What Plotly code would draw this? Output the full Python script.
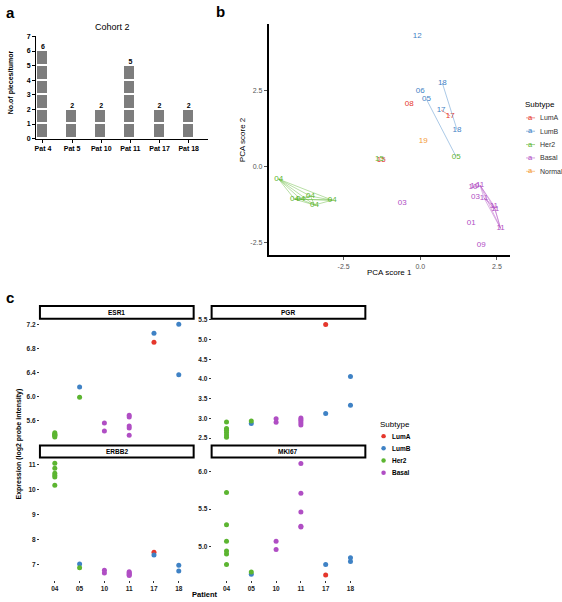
import plotly.graph_objects as go

W, H = 562, 602
FONT = "Liberation Sans"

# ---------------- data ----------------
# panel a
pat_labels = ["Pat 4", "Pat 5", "Pat 10", "Pat 11", "Pat 17", "Pat 18"]
pieces = [6, 2, 2, 5, 2, 2]

# panel b (PCA)
subtypes = ["LumA", "LumB", "Her2", "Basal", "Normal"]
colors = {"LumA": "#E5372C", "LumB": "#3F82C5", "Her2": "#5CB531",
          "Basal": "#B04EC4", "Normal": "#F39A36"}
line_rgba = {"LumA": "rgba(229,55,44,0.55)", "LumB": "rgba(63,130,197,0.55)",
             "Her2": "rgba(92,181,49,0.55)", "Basal": "rgba(176,78,196,0.55)",
             "Normal": "rgba(243,154,54,0.55)"}
pca_label = ["12", "06", "05", "18", "18", "17", "17", "08", "19", "05",
             "15", "15",
             "04", "04", "04", "04", "04", "04",
             "10", "10", "11", "03", "11", "11", "11", "11", "01", "09", "03"]
pca_sub = ["LumB", "LumB", "LumB", "LumB", "LumB", "LumA", "LumB", "LumA", "Normal", "Her2",
           "Her2", "LumA",
           "Her2", "Her2", "Her2", "Her2", "Her2", "Her2",
           "Basal", "Basal", "Basal", "Basal", "Basal", "Basal", "Basal", "Basal", "Basal", "Basal", "Basal"]
pca_x = [-0.10, 0.00, 0.20, 0.72, 1.20, 0.98, 0.68, -0.36, 0.10, 1.17,
         -1.33, -1.27,
         -4.62, -4.10, -3.90, -3.58, -3.45, -2.87,
         1.72, 1.78, 1.95, 1.80, 2.08, 2.40, 2.44, 2.62, 1.66, 1.99, -0.59]
pca_y = [4.29, 2.46, 2.20, 2.73, 1.19, 1.65, 1.84, 2.04, 0.83, 0.31,
         0.24, 0.20,
         -0.43, -1.09, -1.09, -0.99, -1.28, -1.12,
         -0.69, -0.66, -0.63, -1.02, -1.05, -1.30, -1.42, -2.05, -1.87, -2.58, -1.22]
linked_patients = ["04", "05", "10", "11", "17", "18"]

# panel c
patients = ["04", "05", "10", "11", "17", "18"]
c_subtypes = ["LumA", "LumB", "Her2", "Basal"]
genes = ["ESR1", "PGR", "ERBB2", "MKI67"]
expr_patient = ["04"] * 6 + ["05", "05", "10", "10"] + ["11"] * 5 + ["17", "17", "18", "18"]
expr_sub = ["Her2"] * 6 + ["LumB", "Her2", "Basal", "Basal"] + ["Basal"] * 5 + ["LumB", "LumA", "LumB", "LumB"]
expr_ESR1 = [5.40, 5.38, 5.37, 5.36, 5.35, 5.33, 6.16, 5.99, 5.56, 5.43,
             5.69, 5.66, 5.51, 5.48, 5.36, 7.05, 6.90, 7.20, 6.36]
expr_PGR = [2.91, 2.74, 2.70, 2.64, 2.58, 2.52, 2.87, 2.93, 2.99, 2.90,
            3.01, 2.97, 2.93, 2.88, 2.83, 3.12, 5.38, 4.06, 3.33]
expr_ERBB2 = [11.05, 10.85, 10.65, 10.57, 10.50, 10.17, 7.03, 6.88, 6.78, 6.67,
              6.72, 6.68, 6.64, 6.60, 6.57, 7.39, 7.50, 6.98, 6.75]
expr_MKI67 = [5.72, 5.29, 5.07, 4.94, 4.90, 4.76, 4.63, 4.66, 5.07, 4.96,
              6.11, 5.71, 5.46, 5.27, 5.26, 4.76, 4.62, 4.85, 4.80]
expr = {"ESR1": expr_ESR1, "PGR": expr_PGR, "ERBB2": expr_ERBB2, "MKI67": expr_MKI67}
y_ranges = {"ESR1": [5.22, 7.29], "PGR": [2.36, 5.525], "ERBB2": [6.38, 11.28], "MKI67": [4.55, 6.19]}
y_ticks = {"ESR1": [5.6, 6.0, 6.4, 6.8, 7.2], "PGR": [2.5, 3.0, 3.5, 4.0, 4.5, 5.0, 5.5],
           "ERBB2": [7, 8, 9, 10, 11], "MKI67": [5.0, 5.5, 6.0]}
y_ticktext = {"ESR1": ["5.6", "6.0", "6.4", "6.8", "7.2"],
              "PGR": ["2.5", "3.0", "3.5", "4.0", "4.5", "5.0", "5.5"],
              "ERBB2": ["7", "8", "9", "10", "11"], "MKI67": ["5.0", "5.5", "6.0"]}


def xd(a, b):
    return [a / W, b / W]


def yd(top, bottom):
    return [1 - bottom / H, 1 - top / H]


fig = go.Figure()

# ---------------- panel a ----------------
for k in range(1, max(pieces) + 1):
    xs = [i for i, c in enumerate(pieces) if c >= k]
    fig.add_trace(go.Bar(x=xs, y=[1] * len(xs), width=0.41, marker=dict(color="#7d7d7d", line=dict(color="white", width=1.6)),
                         xaxis="x", yaxis="y", showlegend=False, hoverinfo="skip"))
fig.add_trace(go.Scatter(x=list(range(len(pieces))), y=pieces, mode="text", text=[str(p) for p in pieces],
                         textposition="top center", textfont=dict(size=7, color="black", family=FONT, weight="bold"),
                         xaxis="x", yaxis="y", showlegend=False))

# ---------------- panel b ----------------
for st in subtypes:
    idx = [i for i, s in enumerate(pca_sub) if s == st]
    if not idx:
        continue
    fig.add_trace(go.Scatter(x=[pca_x[i] for i in idx], y=[pca_y[i] for i in idx], mode="text",
                             text=[pca_label[i] for i in idx], textposition="middle center",
                             textfont=dict(size=8, color=colors[st], family=FONT),
                             xaxis="x2", yaxis="y2", showlegend=False))
# segments between pieces of same patient, colored by first piece
seg = {st: ([], []) for st in subtypes}
for i in range(len(pca_label)):
    if pca_label[i] not in linked_patients:
        continue
    for j in range(i + 1, len(pca_label)):
        if pca_label[j] == pca_label[i]:
            sx, sy = seg[pca_sub[i]]
            sx += [pca_x[i], pca_x[j], None]
            sy += [pca_y[i], pca_y[j], None]
for st in subtypes:
    sx, sy = seg[st]
    if sx:
        fig.add_trace(go.Scatter(x=sx, y=sy, mode="lines", line=dict(color=line_rgba[st], width=0.8),
                                 xaxis="x2", yaxis="y2", showlegend=False, hoverinfo="skip"))

# ---------------- panel c ----------------
pos = {"ESR1": (3, (39, 193), (319, 445)), "PGR": (4, (211, 365), (319, 445)),
       "ERBB2": (5, (39, 193), (459, 583)), "MKI67": (6, (211, 365), (459, 583))}
for g in genes:
    n = pos[g][0]
    for st in c_subtypes:
        idx = [i for i, s in enumerate(expr_sub) if s == st]
        fig.add_trace(go.Scatter(x=[patients.index(expr_patient[i]) for i in idx], y=[expr[g][i] for i in idx],
                                 mode="markers", marker=dict(size=5, color=colors[st]),
                                 xaxis=f"x{n}", yaxis=f"y{n}", showlegend=False))

layout = dict(width=W, height=H, margin=dict(l=0, r=0, t=0, b=0), paper_bgcolor="white", plot_bgcolor="white",
              barmode="stack", bargap=0, font=dict(family=FONT, color="black"), showlegend=False)

tickf = dict(size=7, color="black", family=FONT, weight="bold")
layout["xaxis"] = dict(domain=xd(35, 207), range=[-0.24, 5.65], tickvals=list(range(6)), ticktext=pat_labels,
                       showline=True, linecolor="black", linewidth=1, ticks="outside", ticklen=3, tickcolor="black",
                       tickfont=tickf, showgrid=False, zeroline=False, anchor="y", fixedrange=True)
layout["yaxis"] = dict(domain=yd(33, 137), range=[0, 7.05], tickvals=list(range(8)), showline=True, linecolor="black",
                       linewidth=1, ticks="outside", ticklen=3, tickcolor="black", tickfont=tickf, showgrid=False,
                       zeroline=False, anchor="x")

grayf = dict(size=7, color="#555555", family=FONT)
layout["xaxis2"] = dict(domain=xd(268, 510), range=[-4.95, 2.93], tickvals=[-2.5, 0, 2.5], ticktext=["-2.5", "0.0", "2.5"],
                        showline=True, linecolor="black", linewidth=1.5, ticks="outside", ticklen=3, tickcolor="#555555",
                        tickfont=grayf, showgrid=False, zeroline=False, anchor="y2")
layout["yaxis2"] = dict(domain=yd(21, 255), range=[-2.94, 4.68], tickvals=[-2.5, 0, 2.5], ticktext=["-2.5", "0.0", "2.5"],
                        showline=True, linecolor="black", linewidth=1.5, ticks="outside", ticklen=3, tickcolor="#555555",
                        tickfont=grayf, showgrid=False, zeroline=False, anchor="x2")

ctick = dict(size=6.5, color="#222222", family=FONT, weight="bold")
for g in genes:
    n, (x0, x1), (y0, y1) = pos[g]
    bottom = g in ("ERBB2", "MKI67")
    layout[f"xaxis{n}"] = dict(domain=xd(x0, x1), range=[-0.6, 5.6], tickvals=list(range(6)), ticktext=patients,
                               showticklabels=bottom, ticks="outside" if bottom else "", ticklen=2, tickcolor="#333333",
                               tickfont=ctick, showline=False, showgrid=False, zeroline=False, anchor=f"y{n}")
    layout[f"yaxis{n}"] = dict(domain=yd(y0, y1), range=y_ranges[g], tickvals=y_ticks[g], ticktext=y_ticktext[g],
                               ticks="outside", ticklen=2, tickcolor="#333333", tickfont=ctick, showline=False,
                               showgrid=False, zeroline=False, anchor=f"x{n}")

shapes = []
ann = []
# strips
strip_y = {"ESR1": (306, 319), "PGR": (306, 319), "ERBB2": (447, 459), "MKI67": (447, 459)}
for g in genes:
    n, (x0, x1), _ = pos[g]
    t, b = strip_y[g]
    shapes.append(dict(type="rect", xref="paper", yref="paper", x0=x0 / W, x1=x1 / W, y0=1 - b / H, y1=1 - t / H,
                       line=dict(color="black", width=2), fillcolor="white"))
    ann.append(dict(text=g, x=(x0 + x1) / 2 / W, y=1 - (t + b) / 2 / H, xref="paper", yref="paper", showarrow=False,
                    font=dict(size=6.5, color="black", family=FONT, weight="bold"), xanchor="center", yanchor="middle"))

# panel letters
for letter, x, y in [("a", 3, 10), ("b", 213, 9), ("c", 3, 297)]:
    ann.append(dict(text=letter, x=x / W, y=1 - y / H, xref="paper", yref="paper", showarrow=False,
                    font=dict(size=15, color="black", family=FONT, weight="bold"), xanchor="left", yanchor="middle"))

# titles
ann.append(dict(text="Cohort 2", x=112 / W, y=1 - 24 / H, xref="paper", yref="paper", showarrow=False,
                font=dict(size=9, color="black", family=FONT), xanchor="center", yanchor="middle"))
ann.append(dict(text="No.of pieces/tumor", x=10 / W, y=1 - 80 / H, xref="paper", yref="paper", showarrow=False,
                textangle=-90, font=dict(size=7, color="black", family=FONT, weight="bold"),
                xanchor="center", yanchor="middle"))
ann.append(dict(text="PCA score 1", x=389 / W, y=1 - 272 / H, xref="paper", yref="paper", showarrow=False,
                font=dict(size=8, color="black", family=FONT), xanchor="center", yanchor="middle"))
ann.append(dict(text="PCA score 2", x=242 / W, y=1 - 138 / H, xref="paper", yref="paper", showarrow=False,
                textangle=-90, font=dict(size=8, color="black", family=FONT), xanchor="center", yanchor="middle"))
ann.append(dict(text="Expression (log2 probe intensity)", x=18 / W, y=1 - 445 / H, xref="paper", yref="paper",
                showarrow=False, textangle=-90, font=dict(size=7, color="black", family=FONT, weight="bold"),
                xanchor="center", yanchor="middle"))
ann.append(dict(text="Patient", x=204 / W, y=1 - 597 / H, xref="paper", yref="paper", showarrow=False,
                font=dict(size=7.5, color="black", family=FONT, weight="bold"), xanchor="center", yanchor="middle"))

# legend panel b
ann.append(dict(text="Subtype", x=523 / W, y=1 - 103 / H, xref="paper", yref="paper", showarrow=False,
                font=dict(size=8, color="black", family=FONT), xanchor="left", yanchor="middle"))
for k, st in enumerate(subtypes):
    yy = 116 + k * 13.5
    shapes.append(dict(type="line", xref="paper", yref="paper", x0=526 / W, x1=535 / W, y0=1 - yy / H, y1=1 - yy / H,
                       line=dict(color=line_rgba[st], width=1)))
    ann.append(dict(text="a", x=530.5 / W, y=1 - (yy - 0.5) / H, xref="paper", yref="paper", showarrow=False,
                    font=dict(size=7.5, color=colors[st], family=FONT), xanchor="center", yanchor="middle"))
    ann.append(dict(text=st, x=538 / W, y=1 - yy / H, xref="paper", yref="paper", showarrow=False,
                    font=dict(size=7, color="#333333", family=FONT), xanchor="left", yanchor="middle"))

# legend panel c
ann.append(dict(text="Subtype", x=378 / W, y=1 - 426 / H, xref="paper", yref="paper", showarrow=False,
                font=dict(size=8, color="black", family=FONT), xanchor="left", yanchor="middle"))
for k, st in enumerate(c_subtypes):
    yy = 437.5 + k * 12.3
    shapes.append(dict(type="circle", xref="paper", yref="paper", x0=381 / W, x1=385.5 / W,
                       y0=1 - (yy + 2.25) / H, y1=1 - (yy - 2.25) / H, line=dict(width=0), fillcolor=colors[st]))
    ann.append(dict(text=st, x=390 / W, y=1 - yy / H, xref="paper", yref="paper", showarrow=False,
                    font=dict(size=6.5, color="black", family=FONT, weight="bold"), xanchor="left", yanchor="middle"))

layout["shapes"] = shapes
layout["annotations"] = ann
fig.update_layout(**layout)
fig.write_html("out.html", config={"displayModeBar": False},
               post_script="document.body.style.margin='0';document.body.style.overflow='hidden';")
